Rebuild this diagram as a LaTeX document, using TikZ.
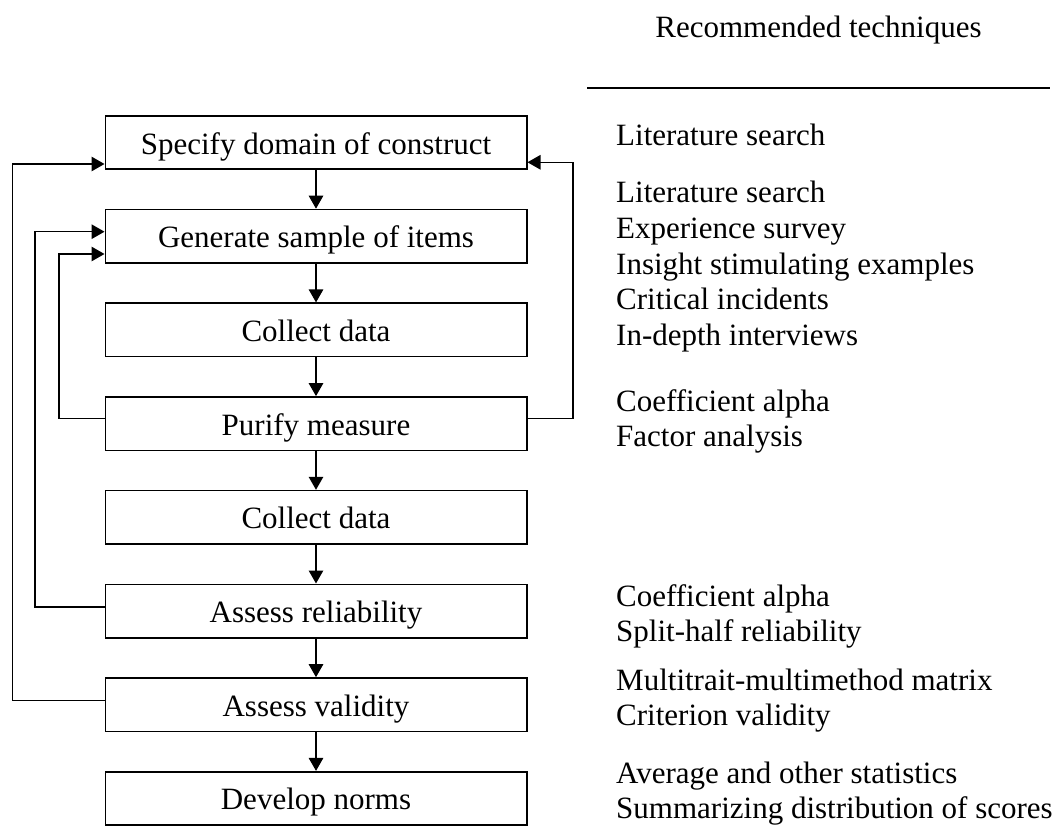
\documentclass[tikz,border=0pt]{standalone}
\usepackage{fontspec}
\setmainfont{Liberation Serif}
\usetikzlibrary{arrows.meta,calc}
\begin{document}
\begin{tikzpicture}[x=1pt,y=-1pt,
  font=\fontsize{31}{35.6}\selectfont,
  stepbox/.style={draw, line width=1.6pt, minimum width=421.4pt, minimum height=53.5pt,
    inner sep=0pt, text height=24.5pt, text depth=1.5pt, anchor=north},
  flow/.style={line width=1.3pt, -{Triangle[length=13pt,width=14.5pt]}},
  tech/.style={anchor=base west, inner sep=0pt},
]
\useasboundingbox (0,0) rectangle (1058,826);

% process steps
\node[stepbox] (b1) at (316,115)   {Specify domain of construct};
\node[stepbox] (b2) at (316,208.7) {Generate sample of items};
\node[stepbox] (b3) at (316,302.4) {Collect data};
\node[stepbox] (b4) at (316,396.1) {Purify measure};
\node[stepbox] (b5) at (316,489.8) {Collect data};
\node[stepbox] (b6) at (316,583.5) {Assess reliability};
\node[stepbox] (b7) at (316,677.2) {Assess validity};
\node[stepbox] (b8) at (316,770.9) {Develop norms};

% main sequence
\foreach \a/\b in {b1/b2,b2/b3,b3/b4,b4/b5,b5/b6,b6/b7,b7/b8}
  \draw[flow] (\a.south) -- (\b.north);

% feedback rails
\coordinate (ra) at (12.7,0);
\coordinate (rb) at (35,0);
\coordinate (rc) at (59,0);
\coordinate (rr) at (573,0);

% exit and entry points on the boxes
\coordinate (x4)  at ($(b4.north west)+(0,22.5)$);
\coordinate (x4r) at ($(b4.north east)+(0,22.5)$);
\coordinate (x6)  at ($(b6.north west)+(0,23.4)$);
\coordinate (x7)  at ($(b7.north west)+(0,23.2)$);
\coordinate (n1l) at ($(b1.north west)+(0,49)$);
\coordinate (n1r) at ($(b1.north east)+(0,47.3)$);
\coordinate (n2a) at ($(b2.north west)+(0,23)$);
\coordinate (n2b) at ($(b2.north west)+(0,45.3)$);

\draw[flow] (x7) -- (x7 -| ra) -- (n1l -| ra) -- (n1l);
\draw[flow] (x6) -- (x6 -| rb) -- (n2a -| rb) -- (n2a);
\draw[flow] (x4) -- (x4 -| rc) -- (n2b -| rc) -- (n2b);
\draw[flow] (x4r) -- (x4r -| rr) -- (n1r -| rr) -- (n1r);

% techniques column
\node[anchor=base, inner sep=0pt] (hdr) at (818.5,38) {Recommended techniques};
\coordinate (ruleL) at (587,88);
\coordinate (ruleR) at (1050,88);
\draw[line width=2pt] (ruleL) -- (ruleR);

\node[tech] (t11) at (616,146)   {Literature search};
\node[tech] (t21) at (616,203)   {Literature search};
\node[tech] (t22) at (616,238.6) {Experience survey};
\node[tech] (t23) at (616,274.2) {Insight stimulating examples};
\node[tech] (t24) at (616,309.8) {Critical incidents};
\node[tech] (t25) at (616,345.4) {In-depth interviews};
\node[tech] (t31) at (616,411)   {Coefficient alpha};
\node[tech] (t32) at (616,446.6) {Factor analysis};
\node[tech] (t41) at (616,606)   {Coefficient alpha};
\node[tech] (t42) at (616,641.6) {Split-half reliability};
\node[tech] (t51) at (616,690)   {Multitrait-multimethod matrix};
\node[tech] (t52) at (616,725.6) {Criterion validity};
\node[tech] (t61) at (616,783)   {Average and other statistics};
\node[tech] (t62) at (616,818.6) {Summarizing distribution of scores};
\end{tikzpicture}
\end{document}
